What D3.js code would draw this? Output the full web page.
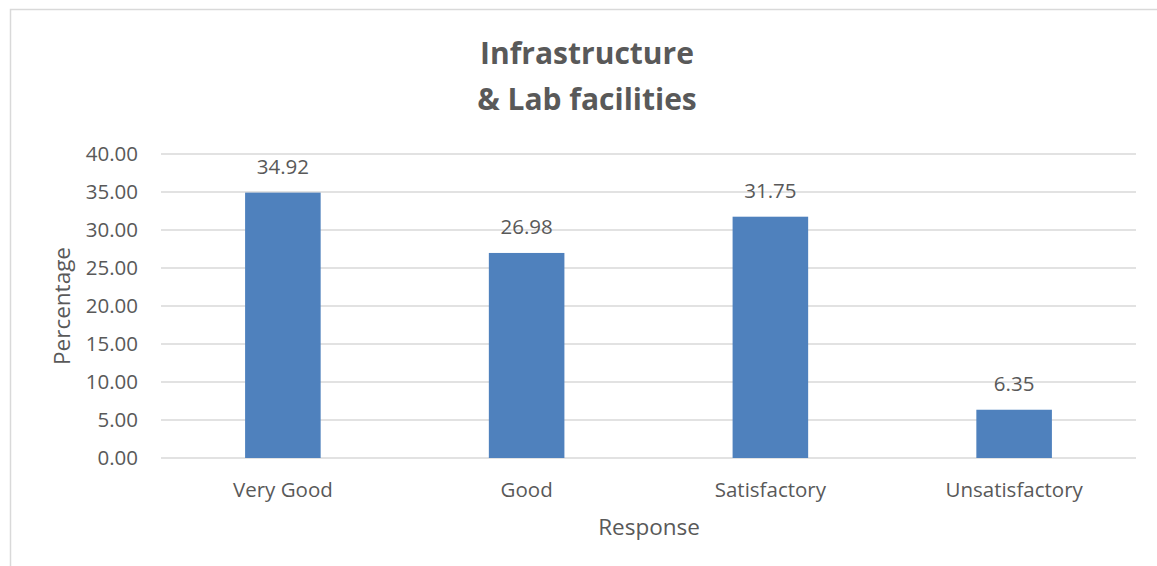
<!DOCTYPE html>
<html>
<head>
<meta charset="utf-8">
<script src="https://cdn.jsdelivr.net/npm/d3@7"></script>
<style>
body { margin: 0; background: #fff; }
text { font-family: "Open Sans", "Liberation Sans", sans-serif; fill: #595959; }
</style>
</head>
<body>
<div class="chart"></div>
<script>
const categories = ['Very Good', 'Good', 'Satisfactory', 'Unsatisfactory'];
const values = [34.92, 26.98, 31.75, 6.35];
const yTicks = [0, 5, 10, 15, 20, 25, 30, 35, 40];

const width = 1157;
const height = 566;
const margin = {left: 161, right: 21, top: 154, bottom: 108};

const svg = d3.select('.chart')
	.append('svg')
	.attr('width', width)
	.attr('height', height);

// chart area border (cut off on right and bottom)
svg.append('rect')
	.attr('x', 10.5)
	.attr('y', 9.5)
	.attr('width', 1170)
	.attr('height', 600)
	.attr('fill', 'none')
	.attr('stroke', '#d9d9d9')
	.attr('stroke-width', 1.5);

const x = d3.scaleBand()
	.domain(categories)
	.range([margin.left, width - margin.right])
	.paddingInner(0.69)
	.paddingOuter(0.345);

const y = d3.scaleLinear()
	.domain([0, 40])
	.range([height - margin.bottom, margin.top]);

// gridlines
svg.append('g')
	.selectAll('line')
	.data(yTicks)
	.enter()
	.append('line')
	.attr('x1', margin.left)
	.attr('x2', width - margin.right)
	.attr('y1', d => y(d))
	.attr('y2', d => y(d))
	.attr('stroke', '#d9d9d9')
	.attr('stroke-width', 1.5);

// y tick labels
svg.append('g')
	.selectAll('text')
	.data(yTicks)
	.enter()
	.append('text')
	.attr('x', 138)
	.attr('y', d => y(d))
	.attr('dy', '0.35em')
	.attr('text-anchor', 'end')
	.attr('font-size', '20.5px')
	.text(d => d.toFixed(2));

// bars
svg.append('g')
	.selectAll('rect')
	.data(values)
	.enter()
	.append('rect')
	.attr('x', (d, i) => x(categories[i]))
	.attr('y', d => y(d))
	.attr('width', x.bandwidth())
	.attr('height', d => y(0) - y(d))
	.attr('fill', '#4f81bd');

// data labels
svg.append('g')
	.selectAll('text')
	.data(values)
	.enter()
	.append('text')
	.attr('x', (d, i) => x(categories[i]) + x.bandwidth() / 2)
	.attr('y', d => y(d) - 19)
	.attr('text-anchor', 'middle')
	.attr('font-size', '20.5px')
	.text(d => d.toFixed(2));

// x category labels
svg.append('g')
	.selectAll('text')
	.data(categories)
	.enter()
	.append('text')
	.attr('x', d => x(d) + x.bandwidth() / 2)
	.attr('y', 497)
	.attr('text-anchor', 'middle')
	.attr('font-size', '20.5px')
	.text(d => d);

// axis titles
svg.append('text')
	.attr('x', 649)
	.attr('y', 535)
	.attr('text-anchor', 'middle')
	.attr('font-size', '22.5px')
	.text('Response');

svg.append('text')
	.attr('transform', 'translate(70,306) rotate(-90)')
	.attr('text-anchor', 'middle')
	.attr('font-size', '22.5px')
	.text('Percentage');

// title
const title = svg.append('text')
	.attr('text-anchor', 'middle')
	.attr('font-size', '30px')
	.attr('font-weight', 'bold');
title.append('tspan').attr('x', 587).attr('y', 64).text('Infrastructure');
title.append('tspan').attr('x', 587).attr('y', 110).text('& Lab facilities');
</script>
</body>
</html>
